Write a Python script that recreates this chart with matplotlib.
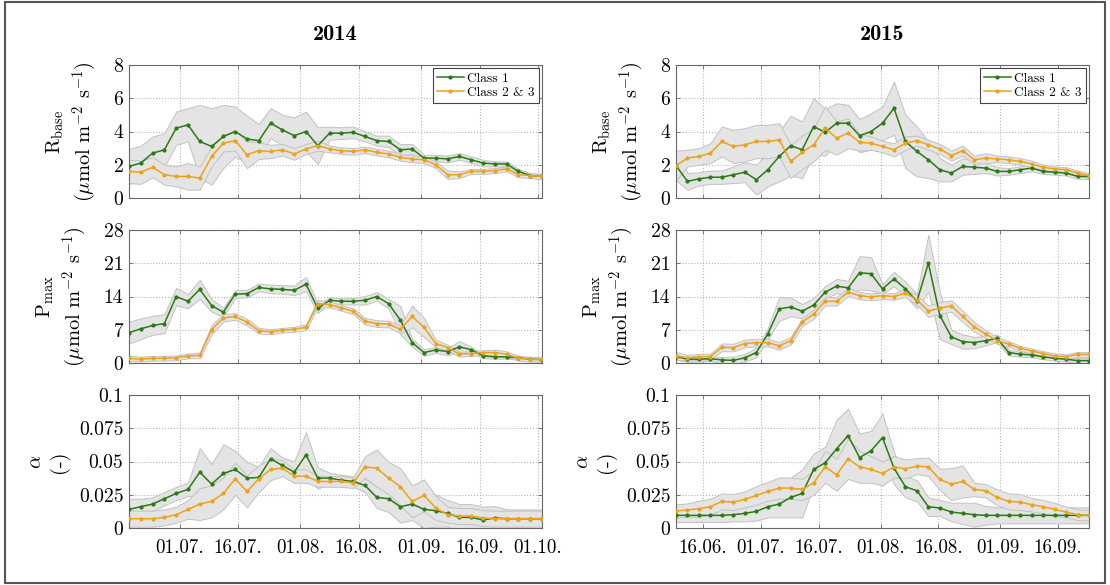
import numpy as np
import pandas as pd
import matplotlib
matplotlib.use('Agg')
import matplotlib.pyplot as plt
from matplotlib.patches import Rectangle

plt.rcParams['font.family'] = ['cmr10', 'DejaVu Serif']
plt.rcParams['mathtext.fontset'] = 'cm'
plt.rcParams['axes.formatter.use_mathtext'] = True
plt.rcParams['axes.unicode_minus'] = False

# ---------------- data ----------------
dates14 = pd.date_range('2014-06-18', '2014-10-02', periods=36)
dates15 = pd.date_range('2015-06-09', '2015-09-24', periods=37)

# R_base 2014
rb14_c1 = [1.9, 2.1, 2.7, 2.9, 4.2, 4.4, 3.4, 3.1, 3.7, 4.0, 3.55, 3.45, 4.5, 4.1, 3.75, 4.0, 3.15, 3.9,
           3.9, 3.95, 3.7, 3.45, 3.4, 2.9, 2.95, 2.4, 2.4, 2.35, 2.5, 2.3, 2.1, 2.05, 2.05, 1.6, 1.35, 1.3]
rb14_c1_sd = [1.05, 1.05, 1.0, 1.0, 1.0, 1.0, 2.2, 2.3, 1.9, 1.5, 1.4, 1.0, 0.9, 0.9, 1.1, 1.2, 1.1, 0.4,
              0.35, 0.35, 0.3, 0.3, 0.35, 0.35, 0.3, 0.2, 0.2, 0.2, 0.2, 0.2, 0.2, 0.15, 0.15, 0.15, 0.15, 0.15]
rb14_c2 = [1.6, 1.55, 1.85, 1.4, 1.3, 1.3, 1.2, 2.5, 3.3, 3.45, 2.6, 2.85, 2.8, 2.9, 2.65, 2.95, 3.15, 2.95,
           2.85, 2.8, 2.9, 2.75, 2.65, 2.45, 2.35, 2.3, 2.0, 1.4, 1.4, 1.6, 1.6, 1.65, 1.75, 1.4, 1.35, 1.3]
rb14_c2_sd = [0.7, 0.7, 0.6, 0.6, 0.6, 0.8, 0.7, 0.6, 0.5, 0.6, 0.8, 0.5, 0.4, 0.35, 0.35, 0.3, 0.3, 0.2,
              0.2, 0.2, 0.2, 0.2, 0.2, 0.2, 0.2, 0.2, 0.2, 0.25, 0.2, 0.15, 0.15, 0.15, 0.15, 0.15, 0.15, 0.15]

# P_max 2014
pm14_c1 = [6.4, 7.2, 7.9, 8.3, 14.0, 13.0, 15.5, 12.1, 10.7, 14.5, 14.6, 15.9, 15.6, 15.5, 15.3, 16.6, 11.5, 13.2,
           13.0, 13.0, 13.2, 14.0, 12.5, 9.0, 4.3, 2.2, 2.75, 2.4, 3.4, 2.8, 1.5, 1.3, 1.3, 1.1, 0.8, 0.7]
pm14_c1_sd = [2.3, 2.2, 2.0, 2.0, 1.8, 1.5, 2.0, 1.3, 1.0, 0.8, 0.8, 0.8, 0.9, 0.9, 1.0, 1.5, 1.0, 0.6,
              0.6, 0.7, 0.9, 0.9, 1.0, 3.0, 0.8, 0.7, 0.6, 0.8, 1.2, 0.6, 0.5, 0.4, 0.4, 0.4, 0.4, 0.4]
pm14_c2 = [1.0, 0.8, 1.0, 1.0, 1.1, 1.5, 1.6, 7.0, 9.5, 9.8, 8.6, 6.8, 6.6, 6.9, 7.1, 7.5, 12.5, 12.3,
           11.6, 10.9, 8.8, 8.3, 8.2, 7.1, 9.8, 7.5, 4.1, 3.25, 1.85, 2.0, 2.2, 2.2, 1.85, 1.0, 0.8, 0.8]
pm14_c2_sd = [0.6, 0.5, 0.5, 0.5, 0.5, 0.5, 0.6, 1.0, 0.8, 0.7, 0.7, 0.6, 0.5, 0.5, 0.5, 0.6, 0.8, 0.6,
              0.6, 0.6, 0.7, 0.7, 0.7, 0.8, 2.3, 2.0, 0.8, 0.6, 0.5, 0.5, 0.5, 0.6, 0.6, 0.5, 0.5, 0.5]

# alpha 2014
al14_c1 = [0.014, 0.016, 0.018, 0.022, 0.026, 0.029, 0.042, 0.033, 0.041, 0.044, 0.0375, 0.038, 0.052, 0.047,
           0.042, 0.055, 0.0375, 0.0375, 0.036, 0.035, 0.032, 0.023, 0.022, 0.016, 0.018, 0.014, 0.013, 0.011,
           0.008, 0.008, 0.006, 0.0075, 0.007, 0.007, 0.007, 0.007]
al14_c1_sd = [0.008, 0.006, 0.005, 0.005, 0.005, 0.005, 0.018, 0.015, 0.022, 0.014, 0.012, 0.008, 0.008, 0.006,
              0.008, 0.017, 0.008, 0.004, 0.004, 0.004, 0.005, 0.008, 0.010, 0.012, 0.012, 0.014, 0.012, 0.010,
              0.010, 0.010, 0.010, 0.009, 0.007, 0.007, 0.007, 0.007]
al14_c2 = [0.007, 0.007, 0.007, 0.008, 0.010, 0.014, 0.018, 0.020, 0.026, 0.037, 0.0275, 0.037, 0.044, 0.045,
           0.039, 0.039, 0.035, 0.035, 0.035, 0.034, 0.046, 0.045, 0.0375, 0.031, 0.020, 0.0245, 0.015, 0.010,
           0.009, 0.009, 0.0075, 0.007, 0.007, 0.007, 0.007, 0.007]
al14_c2_sd = [0.006, 0.006, 0.006, 0.006, 0.006, 0.007, 0.012, 0.012, 0.012, 0.012, 0.012, 0.010, 0.008, 0.006,
              0.005, 0.005, 0.004, 0.004, 0.004, 0.004, 0.008, 0.014, 0.012, 0.014, 0.012, 0.012, 0.009, 0.006,
              0.006, 0.006, 0.006, 0.006, 0.006, 0.006, 0.006, 0.006]

# R_base 2015
rb15_c1 = [1.95, 1.0, 1.15, 1.25, 1.25, 1.4, 1.55, 1.1, 1.7, 2.5, 3.15, 2.9, 4.3, 3.95, 4.5, 4.5, 3.75, 4.0, 4.5,
           5.4, 3.4, 2.8, 2.3, 1.7, 1.5, 1.9, 1.85, 1.8, 1.6, 1.6, 1.7, 1.8, 1.6, 1.55, 1.5, 1.3, 1.3]
rb15_c1_sd = [0.9, 0.5, 0.4, 0.4, 0.4, 0.5, 0.6, 0.9, 1.0, 1.5, 1.8, 1.7, 1.7, 1.4, 1.2, 1.1, 1.0, 1.1, 1.0,
              1.6, 1.6, 1.5, 1.1, 0.7, 0.5, 0.5, 0.4, 0.3, 0.25, 0.2, 0.2, 0.2, 0.15, 0.15, 0.15, 0.15, 0.15]
rb15_c2 = [1.95, 2.4, 2.5, 2.7, 3.4, 3.1, 3.2, 3.4, 3.4, 3.5, 2.2, 2.75, 3.2, 4.2, 3.6, 3.9, 3.35, 3.3, 3.1,
           2.9, 3.3, 3.45, 3.2, 2.95, 2.55, 2.85, 2.3, 2.4, 2.35, 2.3, 2.2, 2.05, 1.85, 1.75, 1.7, 1.5, 1.35]
rb15_c2_sd = [0.9, 0.5, 0.5, 0.6, 0.9, 1.0, 1.0, 1.0, 1.0, 1.0, 1.0, 1.0, 1.0, 1.3, 1.0, 0.9, 0.5, 0.4, 0.35,
              0.4, 0.4, 0.3, 0.3, 0.3, 0.3, 0.3, 0.25, 0.3, 0.2, 0.2, 0.2, 0.2, 0.15, 0.15, 0.15, 0.15, 0.15]

# P_max 2015
pm15_c1 = [1.35, 0.8, 0.8, 0.9, 0.65, 0.55, 1.1, 2.2, 6.1, 11.4, 11.8, 10.9, 12.2, 14.9, 16.2, 15.8, 19.0, 18.8,
           15.6, 17.7, 15.6, 13.0, 21.0, 10.0, 5.5, 4.5, 4.3, 4.7, 5.2, 2.2, 1.85, 1.7, 1.3, 1.0, 0.8, 0.5, 0.5]
pm15_c1_sd = [0.6, 0.6, 0.5, 0.5, 0.6, 0.8, 0.8, 1.0, 1.2, 2.5, 2.0, 1.5, 1.5, 1.3, 1.5, 1.5, 3.5, 3.5,
              1.0, 1.5, 1.5, 1.5, 6.0, 5.0, 1.5, 1.5, 1.2, 1.0, 0.8, 0.6, 0.5, 0.5, 0.5, 0.5, 0.5, 0.5, 0.5]
pm15_c2 = [1.5, 1.1, 1.3, 1.35, 3.3, 3.25, 4.1, 4.3, 4.3, 3.6, 4.7, 8.6, 10.3, 13.0, 13.0, 14.9, 14.2, 13.9,
           14.2, 14.0, 14.7, 13.3, 10.9, 11.6, 12.0, 9.8, 7.6, 6.1, 4.7, 4.0, 3.1, 2.55, 2.0, 1.5, 1.35, 1.8, 1.8]
pm15_c2_sd = [0.8, 0.6, 0.6, 0.6, 0.8, 0.8, 0.8, 0.8, 0.8, 0.8, 0.8, 0.8, 1.0, 0.9, 0.9, 0.8, 0.8, 0.7,
              0.7, 0.7, 0.8, 1.0, 1.2, 1.2, 1.2, 1.2, 1.0, 0.8, 0.7, 0.6, 0.5, 0.5, 0.5, 0.5, 0.5, 0.5, 0.5]

# alpha 2015
al15_c1 = [0.0095, 0.0095, 0.0095, 0.0095, 0.0095, 0.010, 0.011, 0.0125, 0.016, 0.018, 0.023, 0.026, 0.044,
           0.049, 0.0595, 0.0695, 0.053, 0.058, 0.068, 0.045, 0.031, 0.028, 0.016, 0.015, 0.012, 0.011, 0.010,
           0.0095, 0.0095, 0.0095, 0.0095, 0.0095, 0.0095, 0.0095, 0.0095, 0.0095, 0.0095]
al15_c1_sd = [0.005, 0.005, 0.005, 0.005, 0.005, 0.005, 0.006, 0.007, 0.008, 0.010, 0.015, 0.018, 0.012,
              0.012, 0.022, 0.020, 0.018, 0.015, 0.018, 0.012, 0.008, 0.008, 0.007, 0.006, 0.007, 0.008, 0.009,
              0.007, 0.006, 0.006, 0.006, 0.006, 0.006, 0.006, 0.006, 0.006, 0.006]
al15_c2 = [0.0128, 0.0135, 0.0145, 0.016, 0.020, 0.0195, 0.0215, 0.0245, 0.0275, 0.030, 0.030, 0.029, 0.034,
           0.046, 0.040, 0.052, 0.046, 0.044, 0.041, 0.046, 0.0445, 0.0465, 0.046, 0.0365, 0.033, 0.035, 0.029,
           0.028, 0.023, 0.020, 0.0195, 0.0175, 0.016, 0.014, 0.012, 0.010, 0.0095]
al15_c2_sd = [0.005, 0.005, 0.006, 0.006, 0.006, 0.006, 0.006, 0.007, 0.007, 0.008, 0.008, 0.008, 0.009,
              0.012, 0.012, 0.015, 0.012, 0.010, 0.009, 0.008, 0.007, 0.006, 0.007, 0.008, 0.012, 0.012, 0.005,
              0.005, 0.006, 0.006, 0.006, 0.005, 0.005, 0.005, 0.004, 0.004, 0.004]

years = ['2014', '2015']
xlims = [('2014-06-18', '2014-10-02'), ('2015-06-09', '2015-09-24')]
xtick_dates = [['2014-07-01', '2014-07-16', '2014-08-01', '2014-08-16', '2014-09-01', '2014-09-16', '2014-10-01'],
               ['2015-06-16', '2015-07-01', '2015-07-16', '2015-08-01', '2015-08-16', '2015-09-01', '2015-09-16']]
xtick_labels = [['01.07.', '16.07.', '01.08.', '16.08.', '01.09.', '16.09.', '01.10.'],
                ['16.06.', '01.07.', '16.07.', '01.08.', '16.08.', '01.09.', '16.09.']]
series_labels = ['Class 1', 'Class 2 & 3']

yticks = [[0, 2, 4, 6, 8], [0, 7, 14, 21, 28], [0, 0.025, 0.05, 0.075, 0.1]]
ytick_labels = [['0', '2', '4', '6', '8'], ['0', '7', '14', '21', '28'], ['0', '0.025', '0.05', '0.075', '0.1']]
ylabels = ['R$_{\\mathrm{base}}$\n($\\mu$mol m$^{-2}$ s$^{-1}$)',
           'P$_{\\mathrm{max}}$\n($\\mu$mol m$^{-2}$ s$^{-1}$)',
           '$\\alpha$\n(-)']

data = {
    0: [(rb14_c1, rb14_c1_sd, rb14_c2, rb14_c2_sd), (pm14_c1, pm14_c1_sd, pm14_c2, pm14_c2_sd),
        (al14_c1, al14_c1_sd, al14_c2, al14_c2_sd)],
    1: [(rb15_c1, rb15_c1_sd, rb15_c2, rb15_c2_sd), (pm15_c1, pm15_c1_sd, pm15_c2, pm15_c2_sd),
        (al15_c1, al15_c1_sd, al15_c2, al15_c2_sd)],
}
dates = [dates14, dates15]

# ---------------- style ----------------
GREEN = '#2b7a14'
ORANGE = '#eea21b'
BAND = '#e4e4e4'
BAND_EDGE = '#c2c2c2'
SPINE = '#666666'
GRID = '#b5b5b5'
FS = 14.2

W, H = 1110, 585
fig = plt.figure(figsize=(W / 100, H / 100), dpi=100)

col_left = [129, 676]
ax_w = 413
row_top = [65, 230, 395]
ax_h = 133
label_x = [-0.072, -0.097, -0.146]

for c in range(2):
    for r in range(3):
        ax = fig.add_axes([col_left[c] / W, 1 - (row_top[r] + ax_h) / H, ax_w / W, ax_h / H])
        m1, s1, m2, s2 = data[c][r]
        d = dates[c]
        for m, s in ((m1, s1), (m2, s2)):
            m = np.asarray(m)
            s = np.asarray(s)
            ax.fill_between(d, m - s, m + s, facecolor=BAND, edgecolor=BAND_EDGE, linewidth=0.7, zorder=1)
        ax.plot(d, m1, color=GREEN, lw=1.1, marker='o', ms=2.0, zorder=3, label=series_labels[0])
        ax.plot(d, m2, color=ORANGE, lw=1.1, marker='o', ms=2.0, zorder=4, label=series_labels[1])

        ax.set_xlim(pd.Timestamp(xlims[c][0]), pd.Timestamp(xlims[c][1]))
        ax.set_ylim(yticks[r][0], yticks[r][-1])
        ax.set_yticks(yticks[r])
        ax.set_yticklabels(ytick_labels[r], fontsize=FS)
        ax.set_xticks(pd.to_datetime(xtick_dates[c]))
        if r == 2:
            ax.set_xticklabels(xtick_labels[c], fontsize=FS - 0.6)
        else:
            ax.set_xticklabels([])
        ax.grid(True, linestyle=':', color=GRID, linewidth=0.8, zorder=0)
        ax.set_axisbelow(True)
        for sp in ax.spines.values():
            sp.set_color(SPINE)
            sp.set_linewidth(0.8)
        ax.tick_params(direction='in', length=3, width=0.6, color=SPINE, top=True, right=True)
        ax.tick_params(axis='y', pad=4)
        ax.tick_params(axis='x', pad=8)
        ax.set_ylabel(ylabels[r], fontsize=FS + 0.5, linespacing=1.25)
        ax.yaxis.set_label_coords(label_x[r], 0.5)

        if r == 0:
            leg = ax.legend(loc='upper right', fontsize=9.6, frameon=True, fancybox=False, framealpha=1,
                            edgecolor='#444444', borderaxespad=0.25, handlelength=2.0, numpoints=1,
                            borderpad=0.3, labelspacing=0.15, handletextpad=0.25)
            leg.get_frame().set_linewidth(0.8)

    fig.text((col_left[c] + ax_w / 2) / W, 1 - 40 / H, years[c], ha='center', va='baseline',
             fontsize=16, family='cmb10')

fig.add_artist(Rectangle((5 / W, 2 / H), 1100 / W, 581 / H, transform=fig.transFigure,
                         fill=False, edgecolor='#555555', linewidth=1.5))

fig.savefig('out.png', dpi=100)
